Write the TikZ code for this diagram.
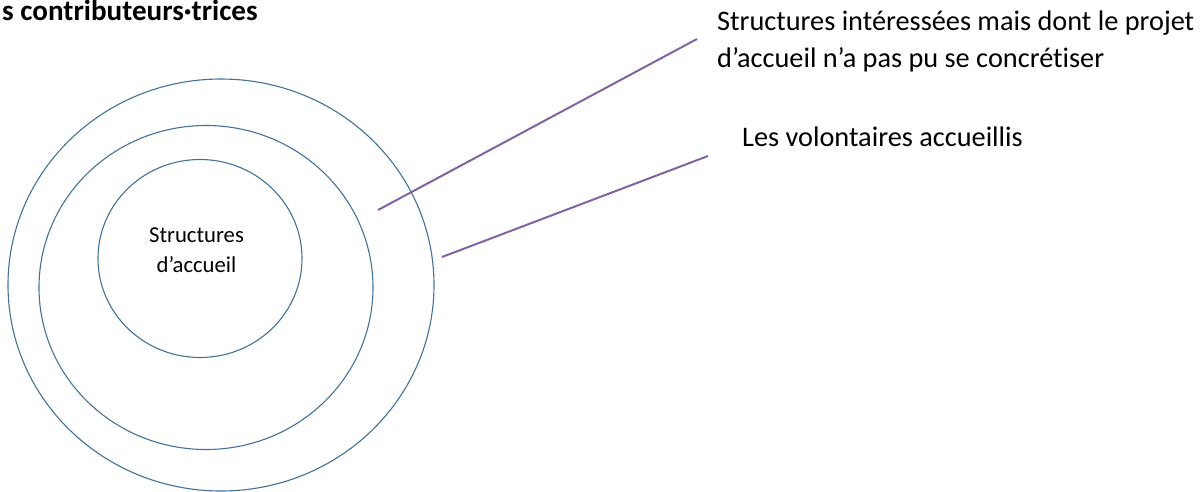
\documentclass[tikz,border=0pt]{standalone}
\usepackage{fontspec}
\setmainfont{Carlito}[Ligatures=NoCommon]
\definecolor{ringblue}{RGB}{65,113,156}
\definecolor{leadpurple}{RGB}{128,100,162}
\tikzset{
	ring/.style={line width=1.1pt, color=ringblue},
	leader/.style={line width=2pt, color=leadpurple},
	label/.style={inner sep=0, align=left, font=\fontsize{28.3}{37}\selectfont}
}

\begin{document}
\begin{tikzpicture}[x=1pt, y=-1pt]
			%%%%% START %%%%%
			\useasboundingbox (0, 0) rectangle (1203, 491);
			
			\node[anchor=base west, inner sep=0, font=\bfseries\fontsize{29.1}{34}\selectfont] (title) at (2, 20.5) {s contributeurs·trices};
			
			\draw[ring] (221, 285) ellipse (213 and 206);
			\draw[ring] (206, 287.5) ellipse (167 and 162);
			\draw[ring] (200, 258.5) ellipse (102 and 99);
			
			\node[inner sep=0, align=center, anchor=north, font=\fontsize{22.7}{30}\selectfont] (hosts) at (196.5, 228) {Structures\\d’accueil};
			
			\node[label, anchor=north west] (failed) at (717, 11) {Structures intéressées mais dont le projet\\d’accueil n’a pas pu se concrétiser};
			\node[label, anchor=base west] (volunteers) at (742, 146) {Les volontaires accueillis};
			
			\coordinate (failedin) at (378, 210);
			\coordinate (failedout) at (697, 39);
			\coordinate (volin) at (442, 257);
			\coordinate (volout) at (708, 156);
			
			\draw[leader] (failedin) -- (failedout);
			\draw[leader] (volin) -- (volout);
			
			%%%%% END %%%%%
		\end{tikzpicture}
\end{document}
